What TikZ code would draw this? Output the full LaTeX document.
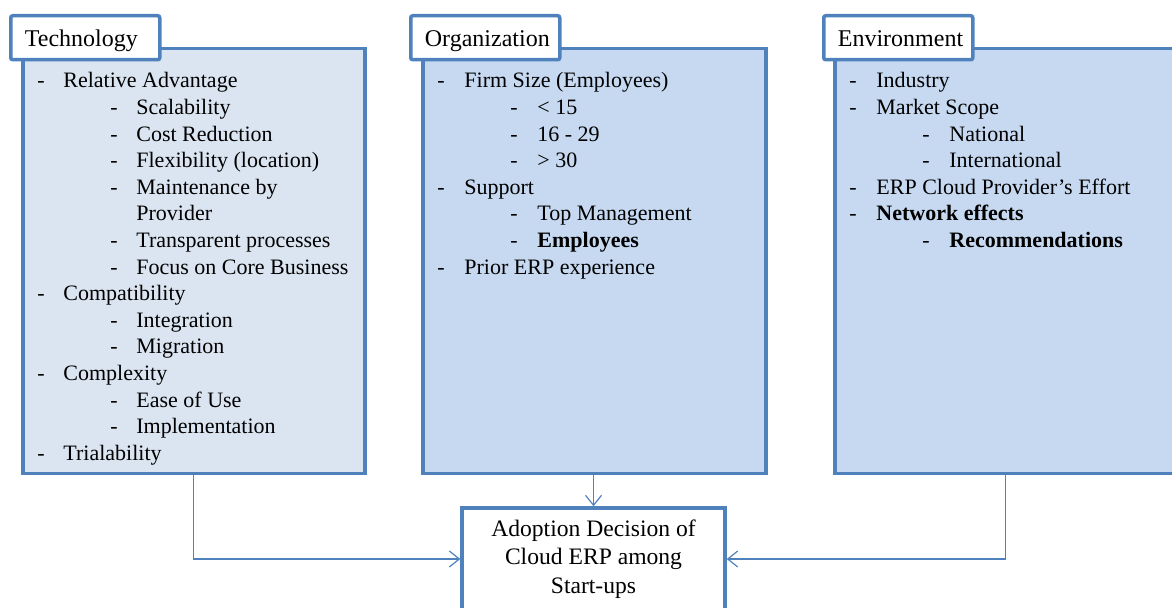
\documentclass[tikz,border=0pt]{standalone}
\usepackage{fontspec}
\setmainfont{Liberation Serif}
\usetikzlibrary{arrows.meta,positioning}

\definecolor{accentblue}{HTML}{4F81BD}
\definecolor{techfill}{HTML}{DBE5F1}
\definecolor{boxfill}{HTML}{C6D9F1}

\tikzset{
  factorbox/.style={draw=accentblue, line width=1.75pt, anchor=north west, inner sep=0pt,
    minimum width=171pt, minimum height=212.5pt},
  tabbox/.style={draw=accentblue, fill=white, line width=1.75pt, anchor=north west, inner sep=0pt,
    rounded corners=1pt, minimum width=74.5pt, minimum height=22pt},
  tablabel/.style={anchor=base west, inner sep=0pt, font=\fontsize{12}{14}\selectfont},
  entry/.style={anchor=base west, inner sep=0pt, font=\fontsize{11}{13}\selectfont},
  decisionbox/.style={draw=accentblue, fill=white, line width=1.75pt, inner sep=0pt,
    minimum width=131.5pt, minimum height=51pt, align=center,
    font=\fontsize{11.8}{14.25}\selectfont},
  link/.style={draw=accentblue, line width=0.6pt, -{Straight Barb[length=5pt,width=8pt]}},
}

\begin{document}
\begin{tikzpicture}[x=0.5pt, y=-0.5pt]
    \useasboundingbox (0,0) rectangle (1172,608);

    % the three context boxes
    \node[factorbox, fill=techfill] (tech) at (21,47) {};
    \node[factorbox, fill=boxfill, minimum width=171.5pt] (org) at (421,47) {};
    \node[factorbox, fill=boxfill] (env) at (833,47) {};

    % tabs with the box titles
    \node[tabbox] (techtab) at (9,14) {};
    \node[tabbox] (orgtab) at (409,14) {};
    \node[tabbox] (envtab) at (822,14) {};
    \node[tablabel] (techlbl) at (24.5,47) {Technology};
    \node[tablabel] (orglbl) at (424.5,47) {Organization};
    \node[tablabel] (envlbl) at (837.5,47) {Environment};

    % lists: 0 = item, 1 = sub item, 2 = wrapped sub item
    \foreach \lvl/\txt [count=\i] in {0/Relative Advantage, 1/Scalability, 1/Cost Reduction,
        1/Flexibility (location), 1/Maintenance by, 2/Provider, 1/Transparent processes,
        1/Focus on Core Business, 0/Compatibility, 1/Integration, 1/Migration,
        0/Complexity, 1/Ease of Use, 1/Implementation, 0/Trialability} {
        \ifnum\lvl<2 \node[entry] (tech-d\i) at ({37+73*\lvl}, {61.4+26.6*\i}) {-};\fi
        \node[entry] (tech-\i) at ({63+73*min(\lvl,1)}, {61.4+26.6*\i}) {\txt};
    }
    \foreach \lvl/\txt [count=\i] in {0/Firm Size (Employees), 1/< 15, 1/16 - 29, 1/> 30,
        0/Support, 1/Top Management, 1/\textbf{Employees}, 0/Prior ERP experience} {
        \node[entry] (org-d\i) at ({437+73*\lvl}, {61.4+26.6*\i}) {-};
        \node[entry] (org-\i) at ({464+73*\lvl}, {61.4+26.6*\i}) {\txt};
    }
    \foreach \lvl/\txt [count=\i] in {0/Industry, 0/Market Scope, 1/National, 1/International,
        0/ERP Cloud Provider’s Effort, 0/\textbf{Network effects}, 1/\textbf{Recommendations}} {
        \node[entry] (env-d\i) at ({849+73*\lvl}, {61.4+26.6*\i}) {-};
        \node[entry] (env-\i) at ({876+73*\lvl}, {61.4+26.6*\i}) {\txt};
    }

    % outcome
    \node[decisionbox] (adopt) at (593.5,559) {Adoption Decision of\\Cloud ERP among\\Start-ups};

    \draw[link] (tech.south) |- (adopt.west);
    \draw[link] (org.south -| adopt.north) -- (adopt.north);
    \draw[link] (env.south) |- (adopt.east);
\end{tikzpicture}
\end{document}
